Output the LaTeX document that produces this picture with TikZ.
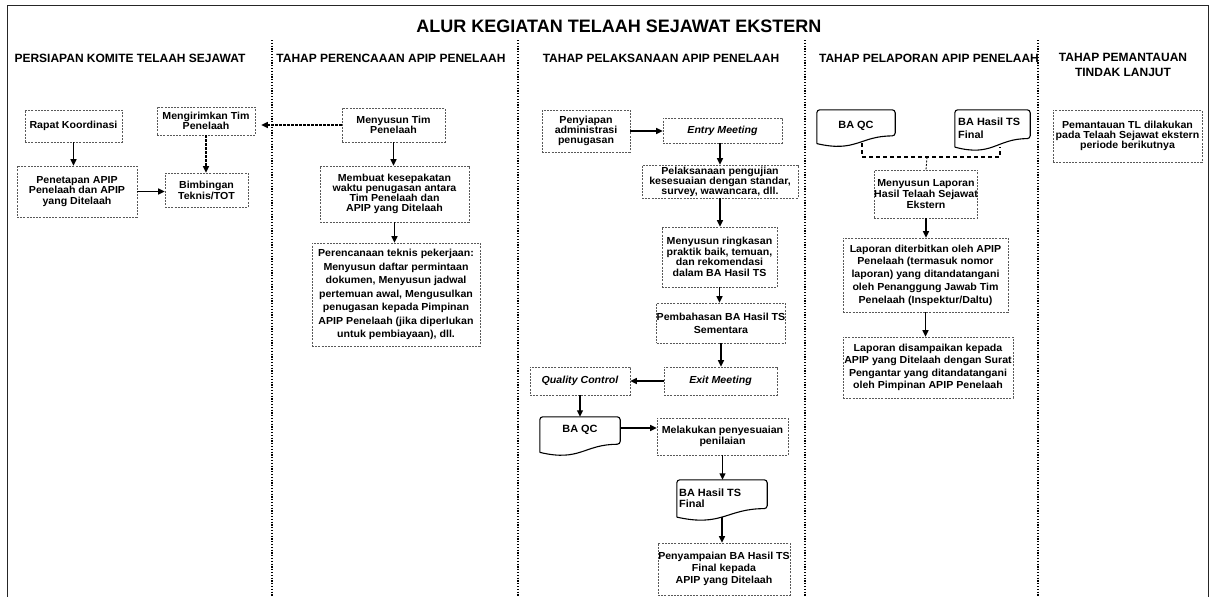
\documentclass[tikz,border=0pt]{standalone}
\usepackage{fontspec}
\setmainfont{Liberation Sans}
\newfontfamily\boxff{Liberation Sans}[FakeStretch=1.04]
\usetikzlibrary{arrows.meta,calc}

\tikzset{
  box/.style={draw=black!65, line width=0.6pt, dash pattern=on 2pt off 1.2pt,
    align=center, inner sep=0pt, font=\boxff\bfseries\fontsize{10.2}{10.5}\selectfont},
  lsk/.style={font=\boxff\bfseries\fontsize{10.2}{#1}\selectfont},
  itbox/.style={box, font=\boxff\bfseries\itshape\fontsize{10.2}{10.5}\selectfont},
  docframe/.style={inner sep=0pt, draw=none},
  doctext/.style={inner sep=0pt, font=\boxff\bfseries\fontsize{10.5}{11}\selectfont},
  docline/.style={draw=black, line width=1.1pt},
  arr/.style={-{Triangle[length=6.5pt,width=6pt]}, line width=1.2pt},
  darr/.style={arr, dash pattern=on 2.5pt off 1.5pt},
  thickdash/.style={line width=1.6pt, dash pattern=on 4pt off 3pt},
  divider/.style={line width=1.1pt, dash pattern=on 1.2pt off 1.6pt},
  header/.style={inner sep=0pt, align=center, font=\bfseries\fontsize{12}{15}\selectfont},
  frameline/.style={line width=0.9pt, draw=black!85}
}

\newcommand{\docshape}[1]{%
  \draw[docline] let \p1=(#1.north west), \p2=(#1.south east),
     \n1={\x2-\x1}, \n2={\y1-\y2} in
    (\x1,{\y1-0.88*\n2}) [rounded corners=3pt] -- (\x1,\y1) -- (\x2,\y1)
    -- (\x2,{\y1-0.68*\n2}) [sharp corners]
    .. controls ({\x1+0.55*\n1},{\y1-0.68*\n2}) and ({\x1+0.5*\n1},{\y1-1.12*\n2})
    .. (\x1,{\y1-0.88*\n2});
}

\begin{document}
\begin{tikzpicture}[x=1pt,y=1pt]
\useasboundingbox (0,0) rectangle (1211,-597);

% outer frame
\draw[frameline] (7,-597) -- (7,-5) -- (1208,-5) -- (1208,-597);

% title
\node[inner sep=0pt, font=\bfseries\fontsize{18}{20}\selectfont] (title) at (619,-26) {ALUR KEGIATAN TELAAH SEJAWAT EKSTERN};

% dividers
\draw[divider] (272,-40) -- (272,-597);
\draw[divider] (518,-40) -- (518,-597);
\draw[divider] (805,-40) -- (805,-597);
\draw[divider] (1038,-40) -- (1038,-597);

% headers
\node[header] (h1) at (130,-58) {PERSIAPAN KOMITE TELAAH SEJAWAT};
\node[header] (h2) at (391,-58) {TAHAP PERENCAAAN APIP PENELAAH};
\node[header] (h3) at (661,-58) {TAHAP PELAKSANAAN APIP PENELAAH};
\node[header] (h4) at (929,-58) {TAHAP PELAPORAN APIP PENELAAH};
\node[header] (h5) at (1123,-64.5) {TAHAP PEMANTAUAN\\TINDAK LANJUT};

% column 1
\node[box, minimum width=97, minimum height=32] (A1) at (73.5,-126) {Rapat Koordinasi};
\node[box, lsk=10.5, minimum width=120, minimum height=51] (A2) at (77,-191.5) {Penetapan APIP\\Penelaah dan APIP\\yang Ditelaah};
\node[box, lsk=10, minimum width=98, minimum height=28] (A3) at (206,-121) {Mengirimkan Tim\\Penelaah};
\node[box, lsk=11, minimum width=83, minimum height=34] (A4) at (206.5,-190) {Bimbingan\\Teknis/TOT};

% column 2
\node[box, lsk=10.5, minimum width=103, minimum height=34] (B1) at (393.5,-125) {Menyusun Tim\\Penelaah};
\node[box, lsk=10.2, minimum width=149, minimum height=56] (B2) at (394.5,-194) {Membuat kesepakatan\\waktu penugasan antara\\Tim Penelaah dan\\APIP yang Ditelaah};
\node[box, lsk=13.5, minimum width=168, minimum height=103] (B3) at (396,-294.5) {Perencanaan teknis pekerjaan:\\Menyusun daftar permintaan\\dokumen, Menyusun jadwal\\pertemuan awal, Mengusulkan\\penugasan kepada Pimpinan\\APIP Penelaah (jika diperlukan\\untuk pembiayaan), dll.};

% column 3
\node[box, lsk=10, minimum width=88, minimum height=42] (C1) at (586,-131) {Penyiapan\\administrasi\\penugasan};
\node[itbox, minimum width=119, minimum height=25] (C2) at (722.5,-130.5) {Entry Meeting};
\node[box, lsk=10, minimum width=156, minimum height=33] (C3) at (720,-181.5) {Pelaksanaan pengujian\\kesesuaian dengan standar,\\survey, wawancara, dll.};
\node[box, lsk=10.5, minimum width=115, minimum height=60] (C4) at (719.5,-257) {Menyusun ringkasan\\praktik baik, temuan,\\dan rekomendasi\\dalam BA Hasil TS};
\node[box, lsk=13, minimum width=128, minimum height=40] (C5) at (721,-323) {Pembahasan BA Hasil TS\\Sementara};
\node[itbox, minimum width=113, minimum height=28] (C6) at (720.5,-381) {Exit Meeting};
\node[itbox, minimum width=100, minimum height=28] (C7) at (580,-381) {Quality Control};
\node[docframe, minimum width=80, minimum height=40] (C8) at (580,-437) {};
\docshape{C8}
\node[doctext] (C8t) at (580,-430) {BA QC};
\node[box, lsk=10.5, minimum width=131, minimum height=37] (C9) at (722.5,-436.5) {Melakukan penyesuaian\\penilaian};
\node[docframe, minimum width=90, minimum height=42] (C10) at (722,-501) {};
\docshape{C10}
\node[doctext, align=left, anchor=west] (C10t) at (679,-498) {BA Hasil TS\\Final};
\node[box, lsk=12, minimum width=132, minimum height=52] (C11) at (724,-569) {Penyampaian BA Hasil TS\\Final kepada\\APIP yang Ditelaah};

% column 4
\node[docframe, minimum width=78, minimum height=38] (D1) at (856,-129) {};
\docshape{D1}
\node[doctext] (D1t) at (856,-126) {BA QC};
\node[docframe, minimum width=75, minimum height=42] (D2) at (992.5,-131) {};
\docshape{D2}
\node[doctext, align=left, anchor=west, font=\boxff\bfseries\fontsize{10.5}{13}\selectfont] (D2t) at (958,-128) {BA Hasil TS\\Final};
\node[box, lsk=11, minimum width=102, minimum height=48] (D3) at (926,-194) {Menyusun Laporan\\Hasil Telaah Sejawat\\Ekstern};
\node[box, lsk=12.7, minimum width=165, minimum height=74] (D4) at (925.5,-275) {Laporan diterbitkan oleh APIP\\Penelaah (termasuk nomor\\laporan) yang ditandatangani\\oleh Penanggung Jawab Tim\\Penelaah (Inspektur/Daltu)};
\node[box, lsk=12.3, minimum width=170, minimum height=61] (D5) at (928,-367.5) {Laporan disampaikan kepada\\APIP yang Ditelaah dengan Surat\\Pengantar yang ditandatangani\\oleh Pimpinan APIP Penelaah};

% column 5
\node[box, lsk=10, minimum width=149, minimum height=52] (E1) at (1127.5,-136) {Pemantauan TL dilakukan\\pada Telaah Sejawat ekstern\\periode berikutnya};

% connectors column 1 & 2
\draw[arr] (A1.south) -- (A1.south |- A2.north);
\draw[arr] (A2.east) -- (A2.east -| A4.west);
\draw[darr] (A3.south) -- (A3.south |- A4.north);
\draw[darr, shorten >=6pt] (B1.west) -- (B1.west -| A3.east);
\draw[arr] (B1.south) -- (B1.south |- B2.north);
\draw[arr] (B2.south) -- (B2.south |- B3.north);

% connectors column 3
\draw[arr] (C1.east) -- (C1.east -| C2.west);
\draw[arr] (C3.north |- C2.south) -- (C3.north);
\draw[arr] (C3.south) -- (C3.south |- C4.north);
\draw[arr] (C4.south) -- (C4.south |- C5.north);
\draw[arr] (C5.south) -- (C5.south |- C6.north);
\draw[arr] (C6.west) -- (C6.west -| C7.east);
\draw[arr] (C7.south) -- (C7.south |- C8.north);
\draw[arr] ([yshift=9pt]C8.east) -- ([yshift=9pt]C8.east -| C9.west);
\draw[arr] (C9.south) -- (C9.south |- C10.north);
\draw[arr] ([yshift=5pt]C10.south) -- (C10.south |- C11.north);

% connectors column 4
\coordinate (dm) at (927,-157);
\draw[thickdash] ([xshift=6pt,yshift=5pt]D1.south) |- (dm) -| ([xshift=7.5pt,yshift=5pt]D2.south);
\draw[line width=0.8pt, dash pattern=on 2pt off 1.5pt] (dm) -- (D3.north);
\draw[arr] (D3.south) -- (D3.south |- D4.north);
\draw[arr] (D4.south) -- (D4.south |- D5.north);
\end{tikzpicture}
\end{document}
